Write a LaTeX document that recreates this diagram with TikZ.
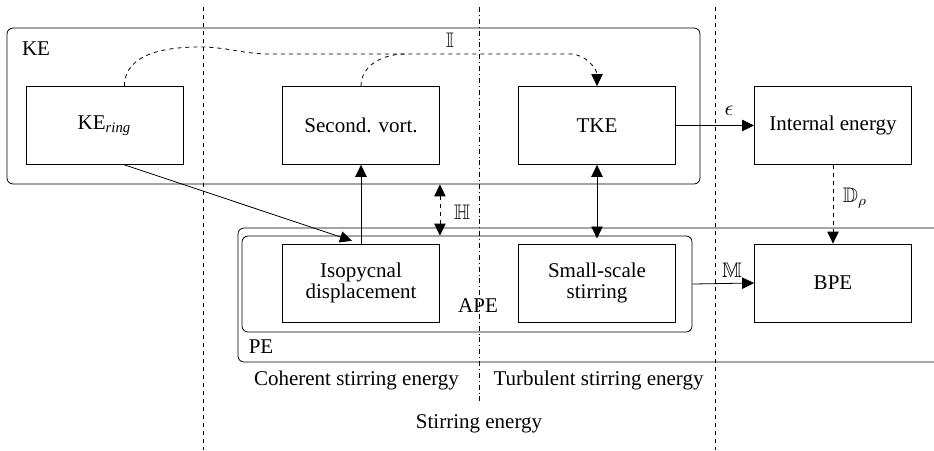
\documentclass[tikz,border=0pt]{standalone}
\usepackage{amsmath,amssymb}
\usepackage{fontspec}
\setmainfont{Liberation Serif}
\usetikzlibrary{arrows.meta}

\begin{document}
\begin{tikzpicture}[every node/.style={font=\fontsize{10.5}{10.2}\selectfont}, >={Triangle[length=2.1mm,width=2mm]}, blk/.style={draw, minimum width=2.76cm, minimum height=1.37cm, align=center, inner sep=1pt}, grp/.style={draw, rounded corners=3pt, inner sep=0pt}, sep/.style={dash pattern=on 2pt off 2pt}]
	\useasboundingbox (0,0) rectangle (16.413,-7.908);
	\draw[sep] (3.567,-0.123) -- (3.567,-7.908);
	\draw[dash pattern=on 2.5pt off 1.5pt on 0.4pt off 1.5pt] (8.418,-0.123) -- (8.418,-7.064);
	\draw[sep] (12.565,-0.123) -- (12.565,-7.908);
	\node[grp, minimum width=12.178cm, minimum height=2.741cm] (ke) at (6.212,-1.863) {};
	\node[grp, minimum width=7.908cm, minimum height=1.687cm] (ape) at (8.207,-4.991) {};
	\draw[rounded corners=3pt] (16.413,-4.007) -| (4.182,-6.361) -- (16.413,-6.361);
	\node[blk] (ring) at (1.836,-2.205) {KE$_{\textit{ring}}$};
	\node[blk] (second) at (6.344,-2.205) {Second. vort.};
	\node[blk] (tke) at (10.491,-2.205) {TKE};
	\node[blk] (internal) at (14.638,-2.205) {Internal energy};
	\node[blk] (iso) at (6.344,-4.973) {Isopycnal\\displacement};
	\node[blk] (small) at (10.491,-4.973) {Small-scale\\stirring};
	\node[blk] (bpe) at (14.638,-4.973) {BPE};
	\node (kelabel) at (0.633,-0.861) {KE};
	\node (apelabel) at (8.400,-5.377) {APE};
	\node (pelabel) at (4.587,-6.098) {PE};
	\node (coherent) at (6.265,-6.678) {Coherent stirring energy};
	\node (turbulent) at (10.518,-6.678) {Turbulent stirring energy};
	\node (stirring) at (8.418,-7.451) {Stirring energy};
	\node (lI) at (7.908,-0.703) {$\mathbb{I}$};
	\node (lH) at (8.119,-3.726) {$\mathbb{H}$};
	\node (leps) at (12.811,-1.951) {$\epsilon$};
	\node (lD) at (15.025,-3.479) {$\mathbb{D}_\rho$};
	\node (lM) at (12.863,-4.745) {$\mathbb{M}$};
	\coordinate (t1) at (3.515,-0.826);
	\coordinate (t2) at (4.745,-0.949);
	\coordinate (t3) at (10.017,-0.949);
	\coordinate (t4) at (7.117,-0.949);
	\draw[sep] ([xshift=0.351cm]ring.north) to[out=90,in=180] (t1) to[out=0,in=180] (t2) -- (t4);
	\draw[sep,->] (second.north) to[out=90,in=180] (t4) -- (t3) to[out=0,in=90] (tke.north);
	\draw[->] ([xshift=0.351cm]ring.south) -- ([xshift=-0.16cm,yshift=0.05cm]iso.north);
	\draw[->] (iso.north) -- (second.south);
	\draw[<->] (tke.south) -- ([yshift=0.09cm]small.north);
	\draw[sep,<->] (iso.east |- ke.south) -- (iso.east |- ape.north);
	\draw[->] (tke.east) -- (internal.west);
	\draw[sep,->] (internal.south) -- (bpe.north);
	\draw[->] (ape.east) -- (bpe.west);
\end{tikzpicture}
\end{document}
